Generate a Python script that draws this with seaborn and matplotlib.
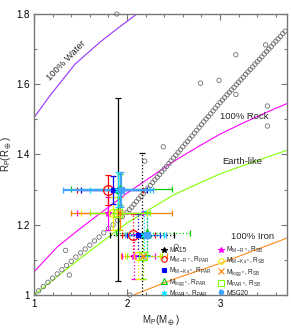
import matplotlib
matplotlib.use("Agg")
import matplotlib.pyplot as plt
import matplotlib.ticker as mticker
from matplotlib.lines import Line2D
import seaborn as sns

# composition curves (mass, radius)
water_m = [1.00, 1.17, 1.44, 1.71, 1.85, 2.12]
water_r = [1.505, 1.567, 1.657, 1.720, 1.749, 1.803]
rock_m = [1.00, 1.25, 1.50, 1.75, 2.00, 2.25, 2.50, 2.75, 3.00, 3.25, 3.50, 3.72]
rock_r = [1.066, 1.137, 1.190, 1.240, 1.290, 1.335, 1.380, 1.420, 1.458, 1.490, 1.520, 1.545]
earth_m = [1.00, 1.50, 2.00, 2.50, 3.00, 3.50, 3.72]
earth_r = [1.000, 1.105, 1.205, 1.285, 1.345, 1.392, 1.412]
iron_m = [2.07, 2.50, 3.00, 3.50, 3.72]
iron_r = [1.000, 1.045, 1.090, 1.140, 1.162]

# known planets along the main sequence (grey open circles)
pop_m = [1.00, 1.05, 1.10, 1.15, 1.20, 1.25, 1.30, 1.35, 1.40, 1.45, 1.50, 1.55,
         1.60, 1.65, 1.70, 1.75, 1.80, 1.85, 1.90, 1.95, 2.00,
         2.025, 2.05, 2.075, 2.10, 2.125, 2.15, 2.175, 2.20, 2.225, 2.25, 2.275, 2.30,
         2.325, 2.35, 2.375, 2.40, 2.425, 2.45, 2.475, 2.50, 2.525, 2.55, 2.575, 2.60,
         2.625, 2.65, 2.675, 2.70, 2.725, 2.75, 2.775, 2.80, 2.825, 2.85, 2.875, 2.90,
         2.925, 2.95, 2.975, 3.00, 3.025, 3.05, 3.075, 3.10, 3.125, 3.15, 3.175, 3.20,
         3.225, 3.25, 3.275, 3.30, 3.325, 3.35, 3.375, 3.40, 3.425, 3.45, 3.475, 3.50,
         3.525, 3.55, 3.575, 3.60, 3.625, 3.65, 3.675, 3.70]
pop_r = [1.000, 1.012, 1.024, 1.036, 1.048, 1.060, 1.072, 1.084, 1.096, 1.108, 1.120, 1.131,
         1.142, 1.154, 1.165, 1.177, 1.189, 1.200, 1.212, 1.223, 1.235,
         1.243, 1.250, 1.258, 1.266, 1.274, 1.281, 1.289, 1.297, 1.304, 1.312, 1.320, 1.328,
         1.335, 1.343, 1.351, 1.359, 1.366, 1.374, 1.382, 1.390, 1.398, 1.406, 1.414, 1.422,
         1.430, 1.437, 1.445, 1.453, 1.461, 1.469, 1.477, 1.485, 1.493, 1.501, 1.508, 1.516,
         1.524, 1.532, 1.540, 1.548, 1.555, 1.562, 1.570, 1.577, 1.584, 1.591, 1.599, 1.606,
         1.613, 1.620, 1.628, 1.635, 1.642, 1.649, 1.657, 1.664, 1.671, 1.678, 1.686, 1.693,
         1.700, 1.707, 1.715, 1.722, 1.729, 1.736, 1.744, 1.751]
# scattered known planets
odd_m = [1.38, 1.34, 2.03, 2.19, 2.39, 2.53, 2.79, 2.99, 3.17, 3.17, 3.49, 3.51, 3.51, 1.89]
odd_r = [1.057, 1.127, 1.000, 1.381, 1.422, 1.138, 1.603, 1.611, 1.684, 1.571, 1.712, 1.538,
         1.481, 1.800]

# legend labels / styles
par_labels = ["MA15", r"M$_{M-R*}$, R$_{PAR}$", r"M$_{M-Ks*}$, R$_{PAR}$",
              r"M$_{logg*}$, R$_{PAR}$", r"M$_{PAR*}$, R$_{PAR}$", "MSC20"]
par_colors = ["black", "#ff0000", "#0000ff", "#00cc00", "#00e5ff", "#3fa4ff"]
par_markers = ["*", "o", "s", "^", (6, 2, 0), "s"]
par_sizes = [5, 7, 3.5, 6, 5, 5]
par_fill = ["black", "none", "#0000ff", "none", "#00e5ff", "#3fa4ff"]

sb_labels = [r"M$_{M-R*}$, R$_{SB}$", r"M$_{M-Ks*}$, R$_{SB}$",
             r"M$_{logg*}$, R$_{SB}$", r"M$_{PAR*}$, R$_{SB}$"]
sb_colors = ["#ff00ff", "#f0f000", "#ff8000", "#80ff00"]
sb_markers = ["*", "o", "x", "s"]
sb_sizes = [5, 6, 4, 6]
sb_fill = ["#ff00ff", "none", "#ff8000", "none"]

# planet b, PAR radius
b_par_m = [1.90, 1.80, 1.85, 1.92, 1.90, 1.94]
b_par_mlo = [1.90, 1.46, 1.51, 1.40, 1.60, 1.31]
b_par_mhi = [1.90, 2.17, 2.22, 2.48, 2.25, 2.28]
b_par_r = [1.300, 1.300, 1.300, 1.302, 1.300, 1.300]
b_par_rlo = [1.040, 1.257, 1.260, 1.255, 1.250, 1.250]
b_par_rhi = [1.560, 1.343, 1.340, 1.345, 1.351, 1.350]

# planet b, SB radius
b_sb_m = [1.80, 1.85, 1.92, 1.90]
b_sb_mlo = [1.46, 1.51, 1.40, 1.60]
b_sb_mhi = [2.17, 2.22, 2.48, 2.25]
b_sb_r = [1.233, 1.233, 1.233, 1.233]
b_sb_rlo = [1.186, 1.186, 1.186, 1.186]
b_sb_rhi = [1.280, 1.280, 1.280, 1.280]

# planet c, PAR radius
c_par_m = [2.16, 2.06, 2.12, 2.22, 2.18, 2.21]
c_par_mlo = [1.82, 1.95, 2.00, 1.88, 2.02, 1.98]
c_par_mhi = [2.50, 2.30, 2.35, 2.68, 2.40, 2.42]
c_par_r = [1.170, 1.170, 1.170, 1.176, 1.170, 1.170]
c_par_rlo = [0.935, 1.110, 1.110, 1.115, 1.100, 1.110]
c_par_rhi = [1.405, 1.230, 1.230, 1.235, 1.240, 1.230]

# planet c, SB radius
c_sb_m = [2.075, 2.12, 2.17, 2.175]
c_sb_mlo = [1.95, 1.98, 1.93, 2.00]
c_sb_mhi = [2.30, 2.35, 2.43, 2.38]
c_sb_r = [1.110, 1.110, 1.110, 1.110]
c_sb_rlo = [1.045, 1.045, 1.045, 1.045]
c_sb_rhi = [1.175, 1.175, 1.175, 1.175]

sns.set_theme(style="ticks")
plt.rcParams["font.family"] = ["Liberation Sans", "DejaVu Sans"]
plt.rcParams["mathtext.default"] = "regular"
plt.rcParams["mathtext.fontset"] = "dejavusans"

fig = plt.figure(figsize=(2.91, 3.30), dpi=100)
ax = fig.add_axes([34 / 291, 35 / 330, 253 / 291, 281 / 330])

sns.lineplot(x=water_m, y=water_r, ax=ax, color="#9a30ff", lw=0.8, sort=False)
sns.lineplot(x=rock_m, y=rock_r, ax=ax, color="#ff00ff", lw=0.8, sort=False)
sns.lineplot(x=earth_m, y=earth_r, ax=ax, color="#80ff00", lw=0.8, sort=False)
sns.lineplot(x=iron_m, y=iron_r, ax=ax, color="#ff8c1a", lw=0.8, sort=False)

sns.scatterplot(x=pop_m, y=pop_r, ax=ax, marker="o", s=10, fc="none",
                ec="#707070", linewidth=0.6, zorder=3)
sns.scatterplot(x=odd_m, y=odd_r, ax=ax, marker="o", s=10, fc="none",
                ec="#707070", linewidth=0.6, zorder=3, clip_on=False)


def draw_err(m, mlo, mhi, r, rlo, rhi, colors, markers, sizes, fills, ls, lws):
    for i in range(len(m)):
        eb = ax.errorbar(m[i], r[i],
                         xerr=[[m[i] - mlo[i]], [mhi[i] - m[i]]],
                         yerr=[[r[i] - rlo[i]], [rhi[i] - r[i]]],
                         ls="none", marker=markers[i], color=colors[i], ms=sizes[i],
                         mfc=fills[i], mec=colors[i], mew=0.9,
                         elinewidth=lws[i], capsize=2.5, capthick=0.9, zorder=4)
        if ls != "-":
            for c in eb[2]:
                c.set_linestyle(ls)


par_lw = [0.9, 0.9, 0.9, 0.9, 0.9, 1.6]
sb_lw = [0.9, 0.9, 0.9, 0.9]
draw_err(c_sb_m, c_sb_mlo, c_sb_mhi, c_sb_r, c_sb_rlo, c_sb_rhi,
         sb_colors, sb_markers, sb_sizes, sb_fill, ":", sb_lw)
draw_err(c_par_m, c_par_mlo, c_par_mhi, c_par_r, c_par_rlo, c_par_rhi,
         par_colors, par_markers, par_sizes, par_fill, ":", sb_lw + [0.9, 0.9])
draw_err(b_sb_m, b_sb_mlo, b_sb_mhi, b_sb_r, b_sb_rlo, b_sb_rhi,
         sb_colors, sb_markers, sb_sizes, sb_fill, "-", sb_lw)
draw_err(b_par_m, b_par_mlo, b_par_mhi, b_par_r, b_par_rlo, b_par_rhi,
         par_colors, par_markers, par_sizes, par_fill, "-", par_lw)

# curve labels
lab_fs = 6.8
ax.text(1.344, 1.666, "100% Water", rotation=46, ha="center", va="center", fontsize=lab_fs)
ax.text(3.26, 1.509, "100% Rock", ha="center", va="center", fontsize=lab_fs)
ax.text(3.24, 1.380, "Earth-like", ha="center", va="center", fontsize=lab_fs)
ax.text(3.355, 1.166, "100% Iron", ha="center", va="center", fontsize=lab_fs)

# legend
handles = []
for i in range(5):
    handles.append(Line2D([], [], ls="none", marker=par_markers[i], color=par_colors[i],
                          mfc=par_fill[i], ms=min(par_sizes[i], 4.0), mew=0.8))
for i in range(4):
    handles.append(Line2D([], [], ls="none", marker=sb_markers[i], color=sb_colors[i],
                          mfc=sb_fill[i], ms=min(sb_sizes[i], 4.0), mew=0.8))
handles.append(Line2D([], [], ls="none", marker="o", color=par_colors[5], ms=3.0))
labels = par_labels[:5] + sb_labels + [par_labels[5]]
ax.legend(handles, labels, ncol=2, loc="upper left", bbox_to_anchor=(0.505, 0.178),
          frameon=False, fontsize=4.8, handlelength=0.8, handletextpad=0.35,
          columnspacing=0.9, labelspacing=0.12, borderaxespad=0.0, borderpad=0.0)

ax.set_xlim(1.0, 3.72)
ax.set_ylim(1.0, 1.8)
ax.xaxis.set_major_locator(mticker.FixedLocator([1, 2, 3]))
ax.xaxis.set_minor_locator(mticker.MultipleLocator(0.2))
ax.yaxis.set_major_locator(mticker.MultipleLocator(0.2))
ax.yaxis.set_minor_locator(mticker.MultipleLocator(0.1))
ax.xaxis.set_major_formatter(mticker.FormatStrFormatter("%g"))
ax.yaxis.set_major_formatter(mticker.FuncFormatter(lambda v, p: f"{v:g}"))
ax.tick_params(which="both", direction="in", top=True, right=True, colors="#777777",
               labelcolor="black", labelsize=7, width=0.8, pad=3)
ax.tick_params(which="major", length=4)
ax.tick_params(which="minor", length=2)
for s in ax.spines.values():
    s.set_color("#777777")
    s.set_linewidth(1.0)

ax.set_xlabel(r"M$_P$(M$_\oplus$)", fontsize=7, labelpad=3)
ax.set_ylabel(r"R$_P$(R$_\oplus$)", fontsize=7, labelpad=2)

fig.savefig("out.png", dpi=100, facecolor="white")
